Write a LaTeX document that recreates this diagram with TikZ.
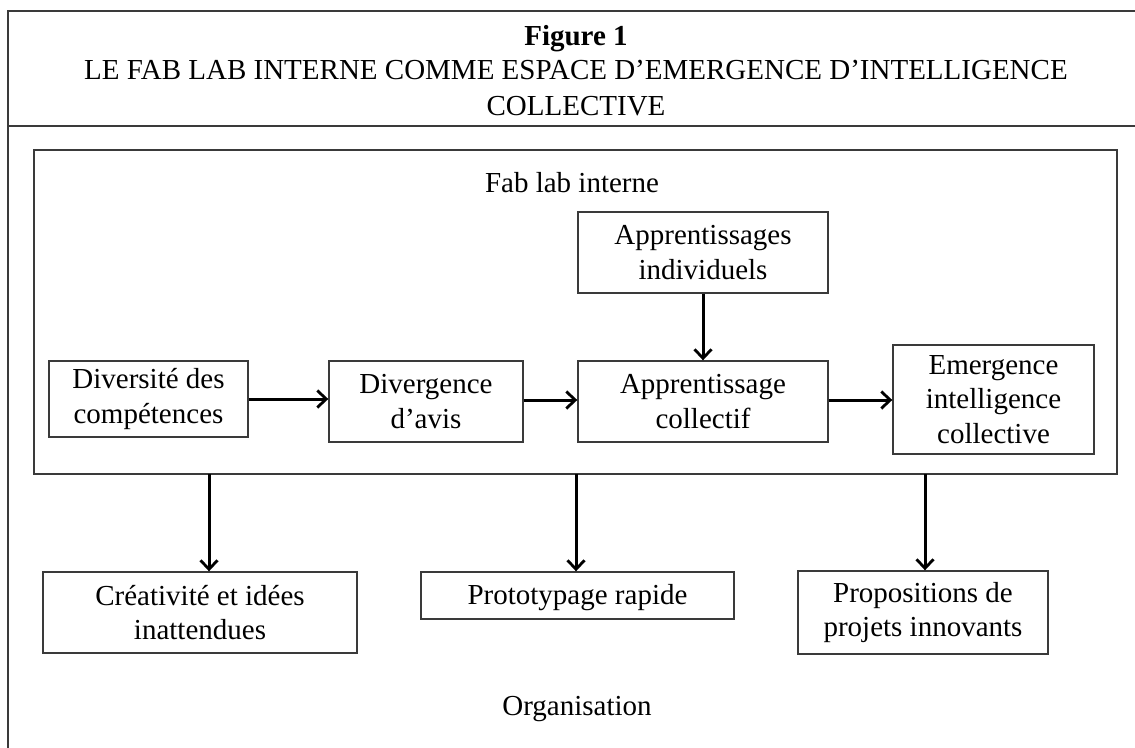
\documentclass[tikz,border=0pt]{standalone}
\usepackage{fontspec}
\setmainfont{Liberation Serif}
\usetikzlibrary{arrows.meta}
\definecolor{boxline}{HTML}{3A3A3A}
\tikzset{
  boxnode/.style={draw=boxline, line width=1.4pt, align=center, inner sep=0pt,
    font=\fontsize{29}{34.5}\selectfont},
  txt/.style={inner sep=0pt, font=\fontsize{29}{34.5}\selectfont},
  arr/.style={line width=3pt, -{Straight Barb[length=9pt,width=17pt,line width=2.8pt]}},
  frameline/.style={draw=boxline, line width=1.6pt}
}
\begin{document}
\begin{tikzpicture}[x=1pt,y=-1pt]
\useasboundingbox (0,0) rectangle (1135,747);
% outer frame (extends past the page on the right and bottom)
\draw[frameline] (8,760) -- (8,11) -- (1145,11);
\draw[frameline] (8,126) -- (1145,126);
% title
\node[txt, anchor=base] (t1) at (576,45) {\bfseries Figure 1};
\node[txt, anchor=base] (t2) at (576,79) {LE FAB LAB INTERNE COMME ESPACE D’EMERGENCE D’INTELLIGENCE};
\node[txt, anchor=base] (t3) at (576,115) {COLLECTIVE};
% inner frame
\node[draw=boxline, line width=1.4pt, minimum width=1083pt, minimum height=324pt, inner sep=0pt] (fab) at (575.5,312) {};
\node[txt, anchor=base] (fablabel) at (572,192) {Fab lab interne};
% boxes
\node[boxnode, minimum width=199pt, minimum height=76pt] (div) at (148.5,399) {Diversité des\\compétences};
\node[boxnode, minimum width=194pt, minimum height=81pt] (dvg) at (426,401.5) {Divergence\\d’avis};
\node[boxnode, minimum width=250pt, minimum height=81pt] (apc) at (703,401.5) {Apprentissage\\collectif};
\node[boxnode, minimum width=250pt, minimum height=81pt] (api) at (703,252.5) {Apprentissages\\individuels};
\node[boxnode, minimum width=201pt, minimum height=109pt] (eme) at (993.5,399.5) {Emergence\\intelligence\\collective};
\node[boxnode, minimum width=314pt, minimum height=81pt] (cre) at (200,612.5) {Créativité et idées\\inattendues};
\node[boxnode, minimum width=313pt, minimum height=47pt, text depth=2pt] (pro) at (577.5,595.5) {Prototypage rapide};
\node[boxnode, minimum width=250pt, minimum height=83pt] (prp) at (923,612.5) {Propositions de\\projets innovants};
\node[txt, anchor=base] (org) at (577,715) {Organisation};
% arrows inside
\draw[arr] (div.east |- 0,399) -- (dvg.west |- 0,399);
\draw[arr] (dvg.east |- 0,400) -- (apc.west |- 0,400);
\draw[arr] (apc.east |- 0,400) -- (eme.west |- 0,400);
\draw[arr] (api.south) -- (apc.north);
% arrows out of the fab lab
\coordinate (s1) at (209,474);
\coordinate (s2) at (576,474);
\coordinate (s3) at (925,474);
\draw[arr] (s1) -- (s1 |- cre.north);
\draw[arr] (s2) -- (s2 |- pro.north);
\draw[arr] (s3) -- (s3 |- prp.north);
\end{tikzpicture}
\end{document}
